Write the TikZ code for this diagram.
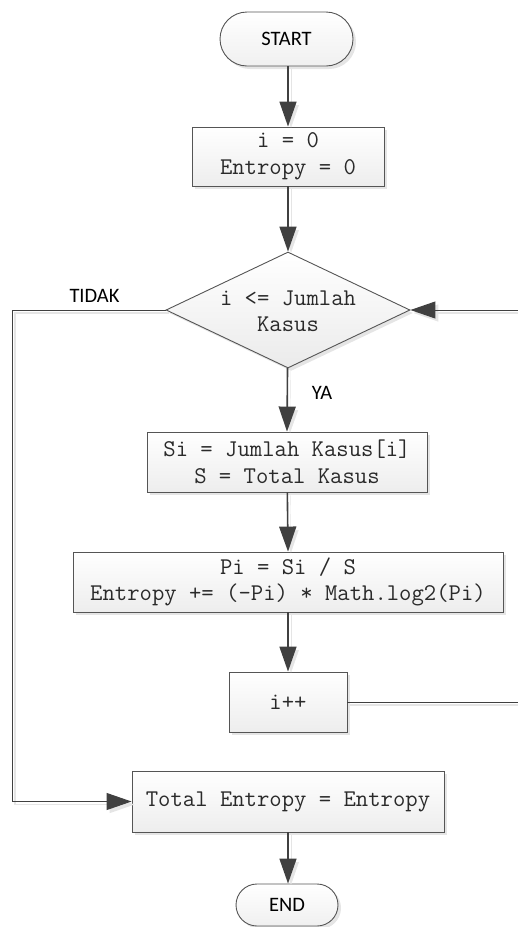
\documentclass[tikz,border=0pt]{standalone}
\usepackage{fontspec}
\setmainfont{Carlito}
\usetikzlibrary{shapes.geometric,shapes.misc,arrows.meta,shadows}
\definecolor{lineC}{HTML}{404040}
\definecolor{borderC}{HTML}{555555}
\definecolor{textC}{HTML}{2A2A2A}
\tikzset{
  boxshadow/.style={drop shadow={shadow xshift=3pt, shadow yshift=-3pt, fill=black!10, opacity=1}},
  procbox/.style={rectangle, draw=borderC, line width=0.9pt, top color=white, bottom color=black!7,
     boxshadow, inner sep=0pt, align=center, text=textC,
     font=\ttfamily\fontsize{24}{26.5}\selectfont},
  termbox/.style={rounded rectangle, draw=borderC, line width=0.9pt, top color=white, bottom color=black!6,
     boxshadow, inner sep=0pt, font=\fontsize{20.5}{24}\selectfont, text=black},
  decbox/.style={diamond, draw=borderC, line width=0.9pt, top color=white, bottom color=black!8,
     boxshadow, inner sep=0pt},
  codetext/.style={align=center, text=textC, inner sep=0pt, font=\ttfamily\fontsize{24}{26.5}\selectfont},
  lbl/.style={inner sep=0pt, font=\fontsize{20.5}{24}\selectfont, text=black},
  flow/.style={draw=lineC, line width=1.6pt, -{Triangle[length=25pt,width=17pt]},
     preaction={draw=black!10, transform canvas={shift={(3pt,-3pt)}}}},
  loopline/.style={draw=lineC, line width=1pt,
     preaction={draw=black!10, line width=1.5pt, transform canvas={shift={(3pt,-3pt)}}}},
  looparrow/.style={loopline, -{Triangle[length=25pt,width=17pt]}},
}
\begin{document}
\begin{tikzpicture}[x=1pt,y=-1pt]
\useasboundingbox (0,0) rectangle (518,927);
\node[termbox, minimum width=133pt, minimum height=54pt] (start) at (286.5,39) {START};
\node[procbox, minimum width=192pt, minimum height=59pt] (init) at (288,156.5) {i = 0\\Entropy = 0};
\node[decbox, minimum width=244pt, minimum height=116pt] (dec) at (288,310) {};
\node[codetext] (dectext) at (288,311) {i <= Jumlah\\Kasus};
\node[procbox, minimum width=280pt, minimum height=60pt] (si) at (287,462) {Si = Jumlah Kasus[i]\\S = Total Kasus};
\node[procbox, minimum width=430pt, minimum height=60pt] (pi) at (288,582) {Pi = Si / S\\Entropy += (-Pi) * Math.log2(Pi)};
\node[procbox, minimum width=118pt, minimum height=60pt] (inc) at (288,702) {i++};
\node[procbox, minimum width=312pt, minimum height=61pt] (tot) at (288,801.5) {Total Entropy = Entropy};
\node[termbox, minimum width=102pt, minimum height=42pt] (end) at (287,905) {END};
\node[lbl] (tidak) at (94.5,296) {TIDAK};
\node[lbl] (ya) at (322,393) {YA};
\coordinate (L1) at (12,310);
\coordinate (R1) at (518,702);
\coordinate (R2) at (518,310);
\draw[flow] (start.south -| init.north) -- (init.north);
\draw[flow] (init) -- (dec.north);
\draw[flow] (dec) -- (si.north);
\draw[flow] (si) -- (pi.north);
\draw[flow] (pi) -- (inc.north);
\draw[flow] (tot) -- (end.north -| tot.south);
\draw[looparrow] (dec.west) -- (L1) |- (tot.west);
\draw[loopline] (inc.east) -- (R1);
\draw[looparrow] (R2) -- (dec.east);
\end{tikzpicture}
\end{document}
